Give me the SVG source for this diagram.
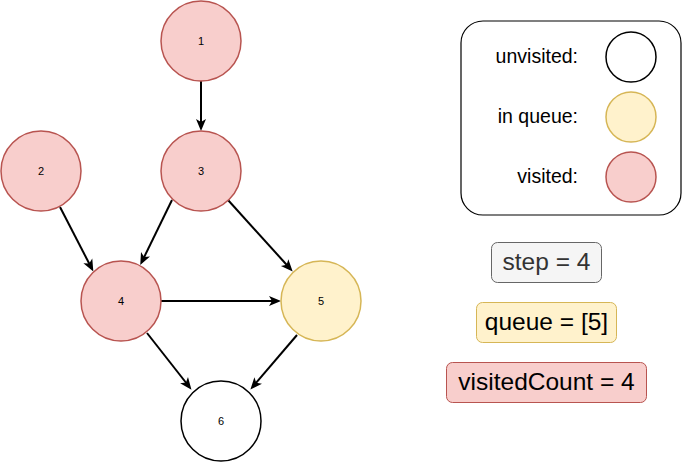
<svg xmlns="http://www.w3.org/2000/svg" width="682" height="462" viewBox="0 0 682 462">
<defs>
<marker id="arr" markerUnits="userSpaceOnUse" markerWidth="14" markerHeight="12" viewBox="0 0 14 12" refX="8" refY="6" orient="auto">
<path d="M0,1 L12,6 L0,11 L3,6 Z" fill="#000"/>
</marker>
<style>
.n circle{stroke-width:1.5}
.visited{fill:#f8cecc;stroke:#b85450}
.queue{fill:#fff2cc;stroke:#d6b656}
.unvisited{fill:#fff;stroke:#000}
.lbl{font-family:"Liberation Sans",Arial,sans-serif;font-size:11px;fill:#000;text-anchor:middle;dominant-baseline:central}
.leg{font-family:"Liberation Sans",Arial,sans-serif;font-size:19.5px;fill:#000;text-anchor:end;dominant-baseline:central}
.box{font-family:"Liberation Sans",Arial,sans-serif;font-size:24.5px;text-anchor:middle;dominant-baseline:central}
.e{stroke:#000;stroke-width:2;fill:none;marker-end:url(#arr)}
</style>
</defs>
<rect width="682" height="462" fill="#fff"/>
<g id="connectors">
<path class="e" d="M201,81 L201,127"/>
<path class="e" d="M60,207 L91.5,268"/>
<path class="e" d="M172,200 L142,261.5"/>
<path class="e" d="M228,200 L290,268.5"/>
<path class="e" d="M161,301 L277,301"/>
<path class="e" d="M147,333 L189,386.5"/>
<path class="e" d="M297,335 L253,386.5"/>
</g>
<g id="node1" class="n"><circle class="visited" cx="201" cy="41" r="40"/><text class="lbl" x="201" y="41">1</text></g>
<g id="node2" class="n"><circle class="visited" cx="41" cy="171" r="40"/><text class="lbl" x="41" y="171">2</text></g>
<g id="node3" class="n"><circle class="visited" cx="201" cy="171" r="40"/><text class="lbl" x="201" y="171">3</text></g>
<g id="node4" class="n"><circle class="visited" cx="121" cy="301" r="40"/><text class="lbl" x="121" y="301">4</text></g>
<g id="node5" class="n"><circle class="queue" cx="321" cy="301" r="40"/><text class="lbl" x="321" y="301">5</text></g>
<g id="node6" class="n"><circle class="unvisited" cx="221" cy="421" r="40"/><text class="lbl" x="221" y="421">6</text></g>
<g id="legend" class="n">
<rect x="461" y="21" width="220" height="194" rx="22" fill="#fff" stroke="#000" stroke-width="1.2"/>
<text class="leg" x="578" y="56">unvisited:</text>
<circle class="unvisited" cx="631" cy="57" r="25"/>
<text class="leg" x="578" y="116">in queue:</text>
<circle class="queue" cx="631" cy="117" r="25"/>
<text class="leg" x="578" y="176">visited:</text>
<circle class="visited" cx="631" cy="177" r="25"/>
</g>
<g id="step">
<rect x="491.5" y="242.5" width="110" height="40" rx="6" fill="#f5f5f5" stroke="#666"/>
<text class="box" x="546.5" y="261" fill="#333">step = 4</text>
</g>
<g id="queueBox">
<rect x="476.5" y="302.5" width="140" height="40" rx="6" fill="#fff2cc" stroke="#d6b656"/>
<text class="box" x="546.5" y="321" fill="#000">queue = [5]</text>
</g>
<g id="visitedCount">
<rect x="446.5" y="362.5" width="200" height="40" rx="6" fill="#f8cecc" stroke="#b85450"/>
<text class="box" x="546.5" y="381" fill="#000">visitedCount = 4</text>
</g>
</svg>
